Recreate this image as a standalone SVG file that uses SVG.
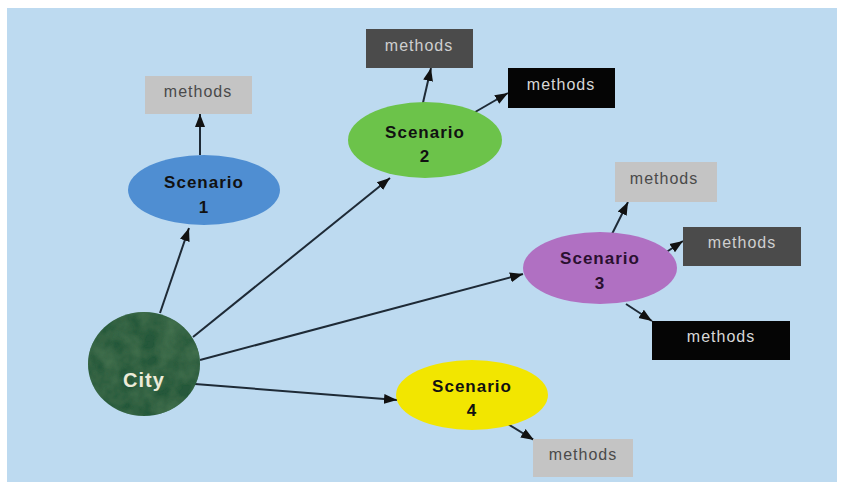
<svg xmlns="http://www.w3.org/2000/svg" width="841" height="484" viewBox="0 0 841 484">
<defs>
<marker id="ah" markerUnits="userSpaceOnUse" markerWidth="14" markerHeight="12" refX="13" refY="6" orient="auto">
<path d="M0,1 L13,6 L0,11 Z" fill="#111"/>
</marker>
<filter id="tex" x="0" y="0" width="1" height="1">
<feTurbulence type="fractalNoise" baseFrequency="0.05" numOctaves="3" seed="5" result="n"/>
<feColorMatrix in="n" type="matrix" values="0 0 0 0 0.06  0 0 0 0 0.17  0 0 0 0 0.08  1.6 0 0 0 -0.45" result="c"/>
<feComposite in="c" in2="SourceGraphic" operator="in" result="t"/>
<feMerge><feMergeNode in="SourceGraphic"/><feMergeNode in="t"/></feMerge>
</filter>
</defs>
<style>
.scn{font-family:"Liberation Sans",Arial,sans-serif;font-weight:bold;font-size:17px;letter-spacing:1px;fill:#111;text-anchor:middle}
.mt{font-family:"Liberation Sans",Arial,sans-serif;font-size:16px;letter-spacing:1px;text-anchor:middle}
.lg{fill:#c4c4c4}.lg+text{fill:#4a4a4a}
.dg{fill:#4b4b4b}.dg+text{fill:#cfcfcf}
.bk{fill:#050505}.bk+text{fill:#d8d8d8}
.conn line{stroke:#1e2a36;stroke-width:2;marker-end:url(#ah)}
</style>
<rect x="0" y="0" width="841" height="484" fill="#ffffff"/>
<rect x="7" y="8" width="830" height="474" fill="#bddaf0"/>

<g id="connectors" class="conn">
<line x1="160" y1="313" x2="189" y2="228"/>
<line x1="193" y1="337" x2="390" y2="178"/>
<line x1="200" y1="360" x2="523" y2="274"/>
<line x1="195" y1="384" x2="397" y2="400"/>
<line x1="200" y1="155" x2="200" y2="114"/>
<line x1="422" y1="107" x2="431" y2="68"/>
<line x1="470" y1="115" x2="508" y2="93"/>
<line x1="612" y1="234" x2="628" y2="202"/>
<line x1="662" y1="255" x2="683" y2="241"/>
<line x1="626" y1="304" x2="652" y2="321"/>
<line x1="508" y1="424" x2="534" y2="440"/>
</g>

<g id="city">
<ellipse cx="144" cy="364" rx="56" ry="52" fill="#28593a" filter="url(#tex)"/>
<text x="144" y="387" style="font-family:'Liberation Sans',Arial,sans-serif;font-weight:bold;font-size:20px;letter-spacing:1px;fill:#ecebd8;text-anchor:middle">City</text>
</g>

<g id="scenario1">
<ellipse cx="204" cy="190" rx="76" ry="35" fill="#4f8ed2"/>
<text class="scn" x="204" y="188">Scenario</text>
<text class="scn" x="204" y="213">1</text>
</g>
<g id="scenario2">
<ellipse cx="425" cy="140" rx="77" ry="38" fill="#6cc34a"/>
<text class="scn" x="425" y="138">Scenario</text>
<text class="scn" x="425" y="162">2</text>
</g>
<g id="scenario3">
<ellipse cx="600" cy="268" rx="77" ry="36" fill="#b070c2"/>
<text class="scn" x="600" y="264" style="fill:#2a1030">Scenario</text>
<text class="scn" x="600" y="289" style="fill:#2a1030">3</text>
</g>
<g id="scenario4">
<ellipse cx="472" cy="395" rx="76" ry="35" fill="#f2e600"/>
<text class="scn" x="472" y="392">Scenario</text>
<text class="scn" x="472" y="416">4</text>
</g>

<g id="methods1"><rect class="lg" x="145" y="76" width="107" height="38"/><text class="mt" x="198" y="97">methods</text></g>
<g id="methods2a"><rect class="dg" x="366" y="29" width="107" height="39"/><text class="mt" x="419" y="51">methods</text></g>
<g id="methods2b"><rect class="bk" x="508" y="68" width="107" height="40"/><text class="mt" x="561" y="90">methods</text></g>
<g id="methods3a"><rect class="lg" x="615" y="162" width="102" height="40"/><text class="mt" x="664" y="184">methods</text></g>
<g id="methods3b"><rect class="dg" x="683" y="227" width="118" height="39"/><text class="mt" x="742" y="248">methods</text></g>
<g id="methods3c"><rect class="bk" x="652" y="321" width="138" height="39"/><text class="mt" x="721" y="342">methods</text></g>
<g id="methods4"><rect class="lg" x="533" y="439" width="100" height="38"/><text class="mt" x="583" y="460">methods</text></g>
</svg>
